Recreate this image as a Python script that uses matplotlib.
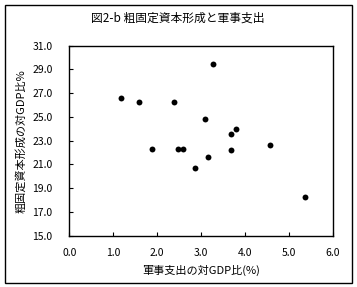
import matplotlib
matplotlib.use("Agg")
import matplotlib.pyplot as plt
from matplotlib.patches import Rectangle

plt.rcParams['font.family'] = ['Noto Sans CJK JP', 'DejaVu Sans']

military = [1.18, 1.59, 2.39, 3.28, 3.09, 3.79, 3.68, 1.88, 2.48, 2.58, 3.68, 4.57, 3.17, 2.87, 5.38]
capital = [26.6, 26.3, 26.3, 29.5, 24.8, 24.0, 23.6, 22.3, 22.3, 22.3, 22.2, 22.6, 21.6, 20.7, 18.3]
xticks = [0.0, 1.0, 2.0, 3.0, 4.0, 5.0, 6.0]
yticks = [15.0, 17.0, 19.0, 21.0, 23.0, 25.0, 27.0, 29.0, 31.0]

title = "図2-b 粗固定資本形成と軍事支出"
xlabel = "軍事支出の対GDP比(%)"
ylabel = "粗固定資本形成の対GDP比%"

fig = plt.figure(figsize=(3.57, 2.87), dpi=100)
fig.patch.set_facecolor('white')
fig.patches.append(Rectangle((5/357, 1 - 283/287), 347/357, 278/287,
                             transform=fig.transFigure, fill=False,
                             edgecolor='black', linewidth=1.0))

ax = fig.add_axes([69.3/357, 1 - 235.7/287, (332.7 - 69.3)/357, (235.7 - 45.7)/287])
ax.scatter(military, capital, s=18, marker='o', color='black', linewidths=0)
ax.set_xlim(0, 6)
ax.set_ylim(15, 31)
ax.set_xticks(xticks)
ax.set_yticks(yticks)
ax.set_xticklabels([f"{v:.1f}" for v in xticks])
ax.set_yticklabels([f"{v:.1f}" for v in yticks])
ax.tick_params(direction='in', length=3, width=0.8, labelsize=7.5)
ax.tick_params(axis='x', pad=9)
ax.tick_params(axis='y', pad=12)
for s in ax.spines.values():
    s.set_linewidth(1.0)

ax.set_xlabel(xlabel, fontsize=8, labelpad=5)
ax.set_ylabel(ylabel, fontsize=8, labelpad=4)
fig.text(178/357, 1 - 18/287, title, ha='center', va='center', fontsize=8.5)

fig.savefig("out.png", dpi=100)
